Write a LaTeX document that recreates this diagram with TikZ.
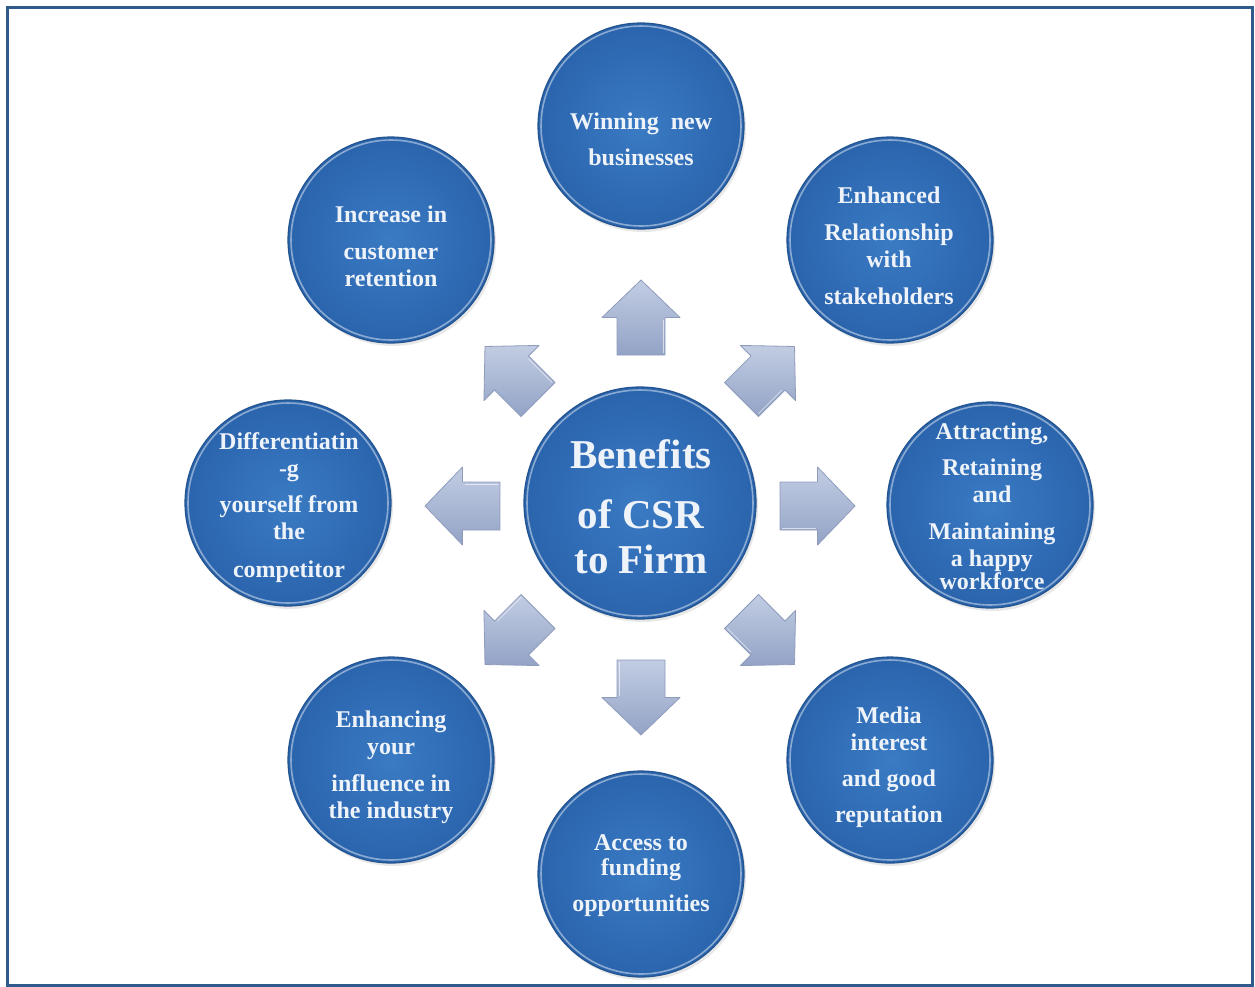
\documentclass[tikz,border=0pt]{standalone}
\usepackage{fontspec}
\setmainfont{Liberation Serif}
\usetikzlibrary{shadows}

\definecolor{framecol}{HTML}{2F5A8C}
\definecolor{ballin}{HTML}{3A7BC4}
\definecolor{ballout}{HTML}{2A64AD}
\definecolor{ballrim}{HTML}{24548F}
\definecolor{labelcol}{HTML}{EEF3FA}
\definecolor{arrowtop}{HTML}{C2CDE3}
\definecolor{arrowbot}{HTML}{93A3C6}
\definecolor{arrowedge}{HTML}{8E9CBC}

\tikzset{
  frame/.style={draw=framecol, line width=3pt},
  ball/.style={circle, inner sep=0pt, minimum size=#1,
    inner color=ballin, outer color=ballout,
    draw=ballrim, line width=1.2pt,
    drop shadow={opacity=0.18, shadow xshift=2pt, shadow yshift=-3pt},
    path picture={\draw[white, opacity=0.45, line width=1.6pt]
      (path picture bounding box.center) circle ({#1/2-3pt});}},
  ball/.default=206pt,
  label/.style={align=center, text=labelcol, inner sep=0pt,
    font=\bfseries\fontsize{24}{27}\selectfont},
  title/.style={align=center, text=labelcol, inner sep=0pt,
    font=\bfseries\fontsize{41}{45}\selectfont},
  blockarrow/.style={top color=arrowtop, bottom color=arrowbot,
    draw=arrowedge, line width=0.8pt, line join=round},
}

% block arrow pointing along angle #2, centred (by its shaft/head joint) at #1
\newcommand{\csrarrow}[2]{%
  \begin{scope}[shift={#1}, rotate=#2]
    \path[blockarrow] (-37.5,-24) -- (0,-24) -- (0,-39) -- (37.5,0)
      -- (0,39) -- (0,24) -- (-37.5,24) -- cycle;
    \draw[white, opacity=0.6, line width=0.8pt] (-35.5,22) -- (-2,22);
  \end{scope}}

\begin{document}
\begin{tikzpicture}[x=1pt, y=-1pt]
  \useasboundingbox (0,0) rectangle (1255,986);
  \fill[white] (0,0) rectangle (1255,986);

  % outer frame
  \draw[frame] (7,7) rectangle (1252,985);

  % arrows radiating from the centre
  \csrarrow{(641,317.5)}{90}
  \csrarrow{(768,373)}{45}
  \csrarrow{(817.5,506)}{0}
  \csrarrow{(768,638)}{-45}
  \csrarrow{(641,697.5)}{-90}
  \csrarrow{(511.5,638)}{-135}
  \csrarrow{(462.5,506)}{180}
  \csrarrow{(511.5,373)}{135}

  % circles
  \node[ball=232pt] (c-mid) at (640,503) {};
  \node[ball] (c-n)  at (641,126) {};
  \node[ball] (c-ne) at (890,240) {};
  \node[ball] (c-e)  at (990,505) {};
  \node[ball] (c-se) at (890,760) {};
  \node[ball] (c-s)  at (641,874) {};
  \node[ball] (c-sw) at (391,760) {};
  \node[ball] (c-w)  at (288,503) {};
  \node[ball] (c-nw) at (391,240) {};

  % texts
  \node[title] (t-mid) at (641,507) {Benefits\\[15pt]of CSR\\to Firm};
  \node[label] (t-n)  at (641,139) {Winning\ \ new\\[9pt]businesses};
  \node[label] (t-ne) at (889,246) {Enhanced\\[10pt]Relationship\\with\\[10pt]stakeholders};
  \node[label] (t-e)  at (992,506) {Attracting,\\[9pt]Retaining\\and\\[10pt]Maintaining\\a happy\\[-4pt]workforce};
  \node[label] (t-se) at (889,767) {Media\\interest\\[9pt]and good\\[9pt]reputation};
  \node[label] (t-s)  at (641,876) {Access to\\[-2pt]funding\\[9pt]opportunities};
  \node[label] (t-sw) at (391,767) {Enhancing\\your\\[10pt]influence in\\the industry};
  \node[label] (t-w)  at (289,508) {Differentiatin\\-g\\[9pt]yourself from\\the\\[11pt]competitor};
  \node[label] (t-nw) at (391,246) {Increase in\\[10pt]customer\\retention};
\end{tikzpicture}
\end{document}
